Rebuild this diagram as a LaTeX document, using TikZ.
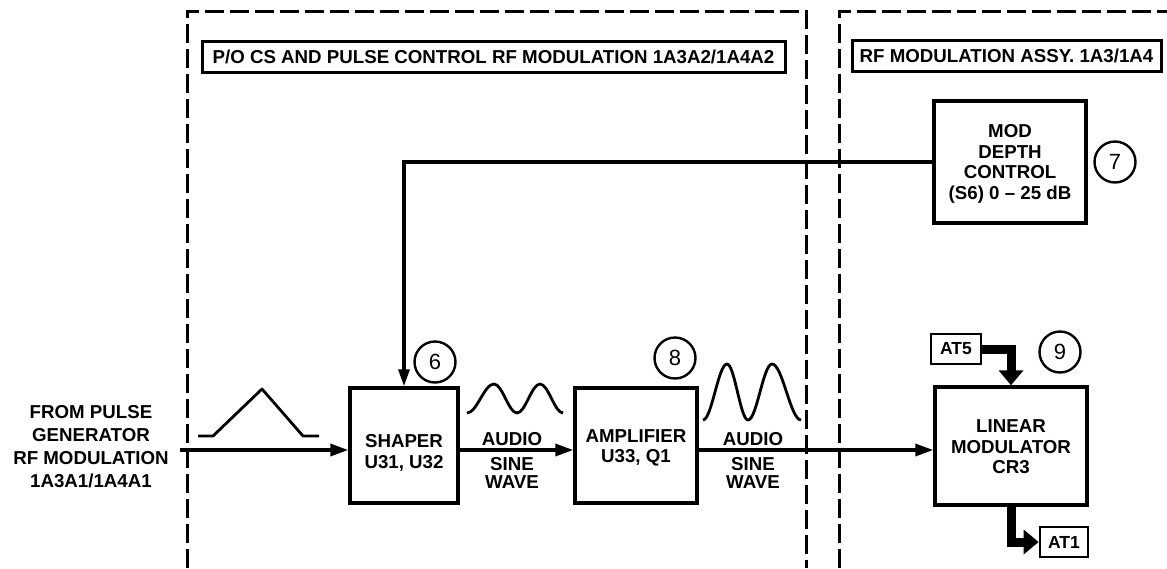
\documentclass[tikz,border=0pt]{standalone}
\usepackage{fontspec}
\setmainfont{Liberation Sans}
\usetikzlibrary{arrows.meta}
\begin{document}
\begin{tikzpicture}[x=1pt,y=-1pt,
  txt/.style={font=\bfseries\fontsize{18.7}{20.5}\selectfont, align=center, inner sep=0pt},
  blk/.style={draw, line width=3.4pt, inner sep=0pt},
  lblbox/.style={draw, line width=3pt, inner sep=0pt, font=\bfseries\fontsize{18.7}{21}\selectfont},
  tag/.style={draw, line width=2.8pt, inner sep=0pt, minimum height=30, font=\bfseries\fontsize{17.5}{20}\selectfont},
  num/.style={draw, circle, line width=2.4pt, inner sep=0pt, minimum size=41, font=\fontsize{22}{24}\selectfont},
  frame/.style={line width=3pt, dash pattern=on 19pt off 6pt},
  sig/.style={line width=3.4pt, -{Triangle[length=18pt,width=12pt]}},
  fb/.style={line width=3.2pt, -{Triangle[length=17pt,width=11pt]}},
  fat/.style={line width=9pt, line join=miter, -{Triangle[length=15pt,width=24pt]}},
  wave/.style={line width=2.8pt, line join=round}
]
\useasboundingbox (0,0) rectangle (1167,568);

% dashed assembly frames
\draw[frame] (187,568) -- (187,11) -- (806,11) -- (806,568);
\draw[frame] (839,568) -- (839,11) -- (1167,11);

% titles
\node[lblbox, minimum width=583, minimum height=31] (lbl1) at (493.5,56.5) {P/O CS AND PULSE CONTROL RF MODULATION 1A3A2/1A4A2};
\node[lblbox, minimum width=309, minimum height=31] (lbl2) at (1006.5,55.5) {RF MODULATION ASSY. 1A3/1A4};

% source text
\node[txt, font=\bfseries\fontsize{18.7}{23}\selectfont] (src) at (91,447) {FROM PULSE\\GENERATOR\\RF MODULATION\\1A3A1/1A4A1};
\coordinate (in) at (180,450);

% blocks
\node[blk, minimum width=108, minimum height=115] (shaper) at (404,445.5) {};
\node[txt] (shapertxt) at (404,453) {SHAPER\\U31, U32};
\node[blk, minimum width=122, minimum height=115] (amp) at (636,445.5) {};
\node[txt] (amptxt) at (636,448) {AMPLIFIER\\U33, Q1};
\node[blk, minimum width=152, minimum height=118] (linmod) at (1011,446) {};
\node[txt] (linmodtxt) at (1011,447) {LINEAR\\MODULATOR\\CR3};
\node[blk, minimum width=152, minimum height=122] (moddepth) at (1010,162) {};
\node[txt] (moddepthtxt) at (1010,164) {MOD\\DEPTH\\CONTROL\\(S6) 0 -- 25 dB};

\node[tag, minimum width=50] (at5) at (956,349) {AT5};
\node[tag, minimum width=48] (at1) at (1064,542) {AT1};

% numbered circles
\node[num] (c6) at (435,362) {6};
\node[num] (c7) at (1115,162) {7};
\node[num] (c8) at (675,358) {8};
\node[num] (c9) at (1060,352) {9};

% signal labels
\node[txt, font=\bfseries\fontsize{18.7}{18}\selectfont, anchor=north] (audio1) at (512,432) {AUDIO\\[7pt]SINE\\WAVE};
\node[txt, font=\bfseries\fontsize{18.7}{18}\selectfont, anchor=north] (audio2) at (753,432) {AUDIO\\[7pt]SINE\\WAVE};

% waveforms
\draw[wave] (198,436) -- (213,436) -- (262,389) -- (303,436) -- (319,436);
\draw[wave] (467,413) cos (480.5,398.5) sin (494,384) cos (505.5,398.5) sin (517,413)
  cos (528.5,398.5) sin (540,384) cos (551.5,398.5) sin (563,413);
\draw[wave] (703,420) cos (715,392) sin (727,364) cos (737.5,392) sin (748,420)
  cos (760,392) sin (772,364) cos (786.5,392) sin (801,420);

% connectors
\draw[sig] (in) -- (in -| shaper.west);
\draw[sig] (shaper.east |- in) -- (in -| amp.west);
\draw[sig] (amp.east |- in) -- (in -| linmod.west);
\draw[fb] (moddepth.west) -| (shaper.north);
\draw[fat] (at5.east) -| (linmod.north);
\draw[fat] (linmod.south) |- (at1.west);
\end{tikzpicture}
\end{document}
